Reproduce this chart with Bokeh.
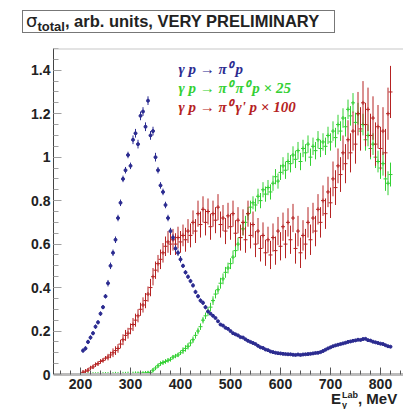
import numpy as np
from bokeh.plotting import figure
from bokeh.layouts import column
from bokeh.models import ColumnDataSource, Label, FixedTicker, CustomJSTickFormatter, Span, Div
from bokeh.embed import file_html
from bokeh.resources import INLINE

# photon beam energy (MeV)
energy = list(range(205, 825, 5))

# gamma p -> pi0 p
pi0_p = [
    0.11, 0.12, 0.15, 0.17, 0.19, 0.22, 0.24, 0.28, 0.31, 0.36,
    0.42, 0.50, 0.56, 0.62, 0.72, 0.79, 0.90, 0.94, 1.01, 0.96,
    1.08, 1.11, 1.06, 1.19, 1.21, 1.14, 1.26, 1.10, 1.12, 1.00,
    0.94, 0.87, 0.84, 0.78, 0.72, 0.66, 0.63, 0.58, 0.56, 0.53,
    0.50, 0.47, 0.45, 0.43, 0.41, 0.38, 0.36, 0.34, 0.33, 0.31,
    0.29, 0.28, 0.27, 0.26, 0.245, 0.23, 0.225, 0.215, 0.21, 0.20,
    0.19, 0.185, 0.18, 0.172, 0.17, 0.162, 0.155, 0.15, 0.145, 0.14,
    0.132, 0.125, 0.122, 0.115, 0.112, 0.106, 0.103, 0.10, 0.098, 0.097,
    0.095, 0.094, 0.093, 0.093, 0.091, 0.090, 0.092, 0.090, 0.092, 0.093,
    0.094, 0.095, 0.097, 0.099, 0.10, 0.103, 0.108, 0.114, 0.12, 0.125,
    0.13, 0.134, 0.137, 0.14, 0.143, 0.146, 0.15, 0.152, 0.155, 0.157,
    0.16, 0.159, 0.163, 0.164, 0.158, 0.156, 0.151, 0.148, 0.145, 0.142,
    0.14, 0.135, 0.13, 0.128,
]
pi0_p_err = [
    0.01, 0.01, 0.01, 0.01, 0.01, 0.01, 0.01, 0.01, 0.01, 0.01,
    0.015, 0.015, 0.015, 0.015, 0.015, 0.015, 0.015, 0.015, 0.015, 0.015,
    0.02, 0.02, 0.02, 0.02, 0.02, 0.02, 0.02, 0.02, 0.02, 0.02,
    0.015, 0.015, 0.015, 0.015, 0.015, 0.015, 0.015, 0.015, 0.015, 0.015,
    0.01, 0.01, 0.01, 0.01, 0.01, 0.01, 0.01, 0.01, 0.01, 0.01,
    0.005, 0.005, 0.005, 0.005, 0.005, 0.005, 0.005, 0.005, 0.005, 0.005,
    0.005, 0.005, 0.005, 0.005, 0.005, 0.005, 0.005, 0.005, 0.005, 0.005,
    0.005, 0.005, 0.005, 0.005, 0.005, 0.005, 0.005, 0.005, 0.005, 0.005,
    0.005, 0.005, 0.005, 0.005, 0.005, 0.005, 0.005, 0.005, 0.005, 0.005,
    0.005, 0.005, 0.005, 0.005, 0.005, 0.005, 0.005, 0.005, 0.005, 0.005,
    0.005, 0.005, 0.005, 0.005, 0.005, 0.005, 0.005, 0.005, 0.005, 0.005,
    0.005, 0.005, 0.005, 0.005, 0.005, 0.005, 0.005, 0.005, 0.005, 0.005,
    0.005, 0.005, 0.005, 0.005,
]

# gamma p -> pi0 pi0 p  (x 25)
pi0pi0_p = [
    0.002, 0.001, 0.002, 0.001, 0.002, 0.001, 0.002, 0.001, 0.002, 0.002,
    0.002, 0.003, 0.002, 0.003, 0.002, 0.003, 0.003, 0.003, 0.004, 0.003,
    0.004, 0.005, 0.005, 0.006, 0.006, 0.007, 0.008, 0.01, 0.02, 0.03,
    0.04, 0.05, 0.055, 0.06, 0.065, 0.07, 0.08, 0.085, 0.09, 0.10,
    0.11, 0.12, 0.13, 0.145, 0.16, 0.18, 0.20, 0.22, 0.25, 0.27,
    0.29, 0.31, 0.34, 0.37, 0.39, 0.42, 0.44, 0.47, 0.49, 0.51,
    0.54, 0.57, 0.60, 0.63, 0.67, 0.70, 0.74, 0.77, 0.79, 0.78,
    0.82, 0.80, 0.85, 0.83, 0.86, 0.84, 0.88, 0.91, 0.89, 0.93,
    0.96, 0.94, 0.98, 0.97, 1.01, 0.99, 1.03, 0.98, 1.04, 1.02,
    1.06, 1.00, 1.05, 1.03, 1.08, 1.04, 1.07, 1.05, 1.10, 1.07,
    1.12, 1.09, 1.15, 1.12, 1.18, 1.14, 1.22, 1.19, 1.25, 1.16,
    1.20, 1.12, 1.15, 1.08, 1.10, 1.04, 1.06, 1.00, 0.98, 0.95,
    0.97, 0.90, 0.88, 0.92,
]
pi0pi0_p_err = [
    0.004, 0.004, 0.004, 0.004, 0.004, 0.004, 0.004, 0.004, 0.004, 0.004,
    0.004, 0.004, 0.004, 0.004, 0.004, 0.004, 0.004, 0.004, 0.004, 0.004,
    0.004, 0.005, 0.005, 0.006, 0.006, 0.007, 0.008, 0.008, 0.01, 0.01,
    0.01, 0.01, 0.01, 0.01, 0.01, 0.01, 0.01, 0.01, 0.01, 0.01,
    0.015, 0.015, 0.015, 0.015, 0.015, 0.015, 0.015, 0.015, 0.015, 0.015,
    0.02, 0.02, 0.02, 0.02, 0.02, 0.025, 0.025, 0.025, 0.025, 0.025,
    0.03, 0.03, 0.03, 0.03, 0.03, 0.03, 0.03, 0.03, 0.03, 0.03,
    0.035, 0.035, 0.035, 0.035, 0.035, 0.035, 0.035, 0.035, 0.035, 0.035,
    0.04, 0.04, 0.04, 0.04, 0.04, 0.04, 0.04, 0.04, 0.04, 0.04,
    0.04, 0.04, 0.04, 0.04, 0.04, 0.04, 0.04, 0.04, 0.04, 0.04,
    0.045, 0.045, 0.045, 0.045, 0.045, 0.045, 0.045, 0.045, 0.045, 0.045,
    0.05, 0.05, 0.05, 0.05, 0.05, 0.05, 0.05, 0.05, 0.05, 0.05,
    0.055, 0.055, 0.055, 0.055,
]

# gamma p -> pi0 gamma' p  (x 100)
pi0gamma_p = [
    0.01, 0.015, 0.02, 0.03, 0.035, 0.045, 0.05, 0.06, 0.065, 0.075,
    0.08, 0.09, 0.10, 0.11, 0.12, 0.14, 0.16, 0.18, 0.19, 0.21,
    0.23, 0.25, 0.27, 0.30, 0.32, 0.34, 0.37, 0.40, 0.45, 0.48,
    0.51, 0.53, 0.56, 0.59, 0.61, 0.60, 0.62, 0.60, 0.63, 0.61,
    0.64, 0.62, 0.66, 0.64, 0.70, 0.66, 0.74, 0.69, 0.76, 0.70,
    0.75, 0.68, 0.74, 0.71, 0.77, 0.69, 0.72, 0.66, 0.73, 0.68,
    0.74, 0.65, 0.71, 0.63, 0.70, 0.62, 0.74, 0.64, 0.69, 0.60,
    0.66, 0.58, 0.64, 0.56, 0.62, 0.55, 0.63, 0.57, 0.66, 0.59,
    0.68, 0.60, 0.70, 0.62, 0.72, 0.58, 0.66, 0.56, 0.64, 0.60,
    0.70, 0.62, 0.72, 0.66, 0.76, 0.70, 0.80, 0.74, 0.84, 0.79,
    0.90, 0.86, 0.96, 0.92, 1.02, 0.97, 1.08, 1.02, 1.12, 1.06,
    1.20, 1.13, 1.25, 1.15, 1.22, 1.10, 1.18, 1.06, 1.14, 1.04,
    1.12, 1.02, 1.20, 1.30,
]
pi0gamma_p_err = [
    0.01, 0.01, 0.01, 0.01, 0.01, 0.01, 0.01, 0.01, 0.01, 0.01,
    0.015, 0.015, 0.02, 0.02, 0.02, 0.02, 0.025, 0.025, 0.025, 0.025,
    0.03, 0.03, 0.03, 0.03, 0.035, 0.035, 0.035, 0.04, 0.04, 0.04,
    0.04, 0.045, 0.045, 0.045, 0.05, 0.05, 0.05, 0.05, 0.05, 0.05,
    0.05, 0.055, 0.055, 0.055, 0.055, 0.055, 0.06, 0.06, 0.06, 0.06,
    0.06, 0.06, 0.06, 0.06, 0.06, 0.06, 0.06, 0.06, 0.06, 0.06,
    0.06, 0.06, 0.06, 0.06, 0.06, 0.06, 0.06, 0.06, 0.06, 0.06,
    0.06, 0.06, 0.06, 0.06, 0.06, 0.065, 0.065, 0.065, 0.065, 0.065,
    0.065, 0.065, 0.065, 0.065, 0.065, 0.07, 0.07, 0.07, 0.07, 0.07,
    0.07, 0.07, 0.07, 0.07, 0.07, 0.07, 0.07, 0.07, 0.07, 0.07,
    0.08, 0.08, 0.08, 0.08, 0.08, 0.09, 0.09, 0.09, 0.09, 0.09,
    0.1, 0.1, 0.1, 0.1, 0.1, 0.1, 0.1, 0.1, 0.1, 0.1,
    0.11, 0.11, 0.12, 0.12,
]

y_ticks = [0, 0.2, 0.4, 0.6, 0.8, 1.0, 1.2, 1.4]
x_ticks = [200, 300, 400, 500, 600, 700, 800]

BLUE = "#2b2b90"
GREEN = "#33d033"
RED = "#b52222"
TXT = "#222222"

p = figure(width=403, height=361, x_range=(146, 846), y_range=(0, 1.5),
           output_backend="svg", toolbar_location=None,
           min_border_left=53, min_border_right=0,
           min_border_top=0, min_border_bottom=35)
p.background_fill_color = "white"
p.border_fill_color = "white"
p.outline_line_color = None
p.xgrid.visible = False
p.ygrid.visible = False
p.margin = 0


def add_series(vals, errs, color, marker, size):
    x = np.array(energy, dtype=float)
    v = np.array(vals, dtype=float)
    e = np.array(errs, dtype=float)
    src = ColumnDataSource(dict(x=x, y=v, lo=v - e, hi=v + e))
    p.segment(x0="x", y0="lo", x1="x", y1="hi", source=src,
              line_color=color, line_width=1)
    p.scatter("x", "y", source=src, marker=marker, size=size,
              line_color=color, fill_color=color)


add_series(pi0pi0_p, pi0pi0_p_err, GREEN, "cross", 4)
add_series(pi0gamma_p, pi0gamma_p_err, RED, "cross", 4)
add_series(pi0_p, pi0_p_err, BLUE, "circle", 3)

# top frame line
p.add_layout(Span(location=1.5, dimension="width", line_color="#c8c8c8", line_width=2))

# axes
yax = p.yaxis[0]
yax.ticker = FixedTicker(ticks=y_ticks,
                         minor_ticks=[round(0.05 * i, 2) for i in range(0, 31)])
yax.formatter = CustomJSTickFormatter(code="return tick.toFixed(1).replace(/\\.0$/, '')")
yax.major_tick_in = 8
yax.major_tick_out = 0
yax.minor_tick_in = 5
yax.minor_tick_out = 0
yax.major_tick_line_color = "#a0a0a0"
yax.minor_tick_line_color = "#a0a0a0"
yax.axis_line_color = "#444444"
yax.major_label_text_font = "Liberation Sans"
yax.major_label_text_font_style = "bold"
yax.major_label_text_font_size = "14px"
yax.major_label_text_color = TXT
yax.major_label_standoff = 3

xax = p.xaxis[0]
xax.ticker = FixedTicker(ticks=x_ticks, minor_ticks=list(range(160, 860, 20)))
xax.major_tick_in = 7
xax.major_tick_out = 0
xax.minor_tick_in = 4
xax.minor_tick_out = 0
xax.major_tick_line_color = "#555555"
xax.minor_tick_line_color = "#555555"
xax.axis_line_color = "#bbbbbb"
xax.axis_line_width = 3
xax.major_label_text_font = "Liberation Sans"
xax.major_label_text_font_style = "bold"
xax.major_label_text_font_size = "14px"
xax.major_label_text_color = TXT
xax.major_label_standoff = 4


def dx(px):
    return 146 + (px - 53) * 2.0


def dy(py):
    return (374 - py) / (326 / 1.5)


# legend texts (inside the frame)
legend_items = [("γ p → π⁰ p", BLUE, 68),
                ("γ p → π⁰ π⁰ p × 25", GREEN, 87),
                ("γ p → π⁰ γ' p × 100", RED, 106)]
for txt, col, py in legend_items:
    p.add_layout(Label(x=dx(178), y=dy(py), text=txt, text_baseline="middle",
                       text_font="Liberation Serif", text_font_style="bold italic",
                       text_font_size="15px", text_color=col))

# title box (HTML, above the plot)
title_html = (
    '<div style="width:403px;height:48px;overflow:hidden;padding:10px 0 0 22px;box-sizing:border-box;">'
    '<div style="box-sizing:border-box;width:313px;height:23px;'
    'border:1.5px solid #777;background:#fff;padding:0 0 0 3px;white-space:nowrap;'
    "font-family:'Liberation Sans',sans-serif;font-weight:bold;font-size:16.5px;"
    'line-height:19px;color:#222;">'
    "<span style=\"font-family:'DejaVu Sans',sans-serif;font-weight:normal;font-size:18px;\">σ</span>"
    '<span style="font-size:13px;position:relative;top:4px;">total</span>'
    ', arb. units, VERY PRELIMINARY</div></div>'
)
title_div = Div(text=title_html, width=403, height=48, margin=0)

# x-axis title (HTML, overlapping the bottom border of the plot)
xlabel_html = (
    '<div style="width:403px;height:20px;overflow:hidden;white-space:nowrap;'
    "font-family:'Liberation Sans',sans-serif;font-weight:bold;font-size:15px;"
    'line-height:18px;color:#222;padding:1px 0 0 331px;box-sizing:border-box;">'
    'E<span style="display:inline-block;vertical-align:-4px;font-size:9px;'
    'line-height:10px;text-align:left;margin-left:1px;">Lab<br>γ</span>, MeV</div>'
)
xlabel_div = Div(text=xlabel_html, width=403, height=20, margin=(-20, 0, 0, 0),
                 styles={"position": "relative", "z-index": "10"})

layout = column(title_div, p, xlabel_div, spacing=0)

open("out.html", "w").write(file_html(layout, INLINE))
